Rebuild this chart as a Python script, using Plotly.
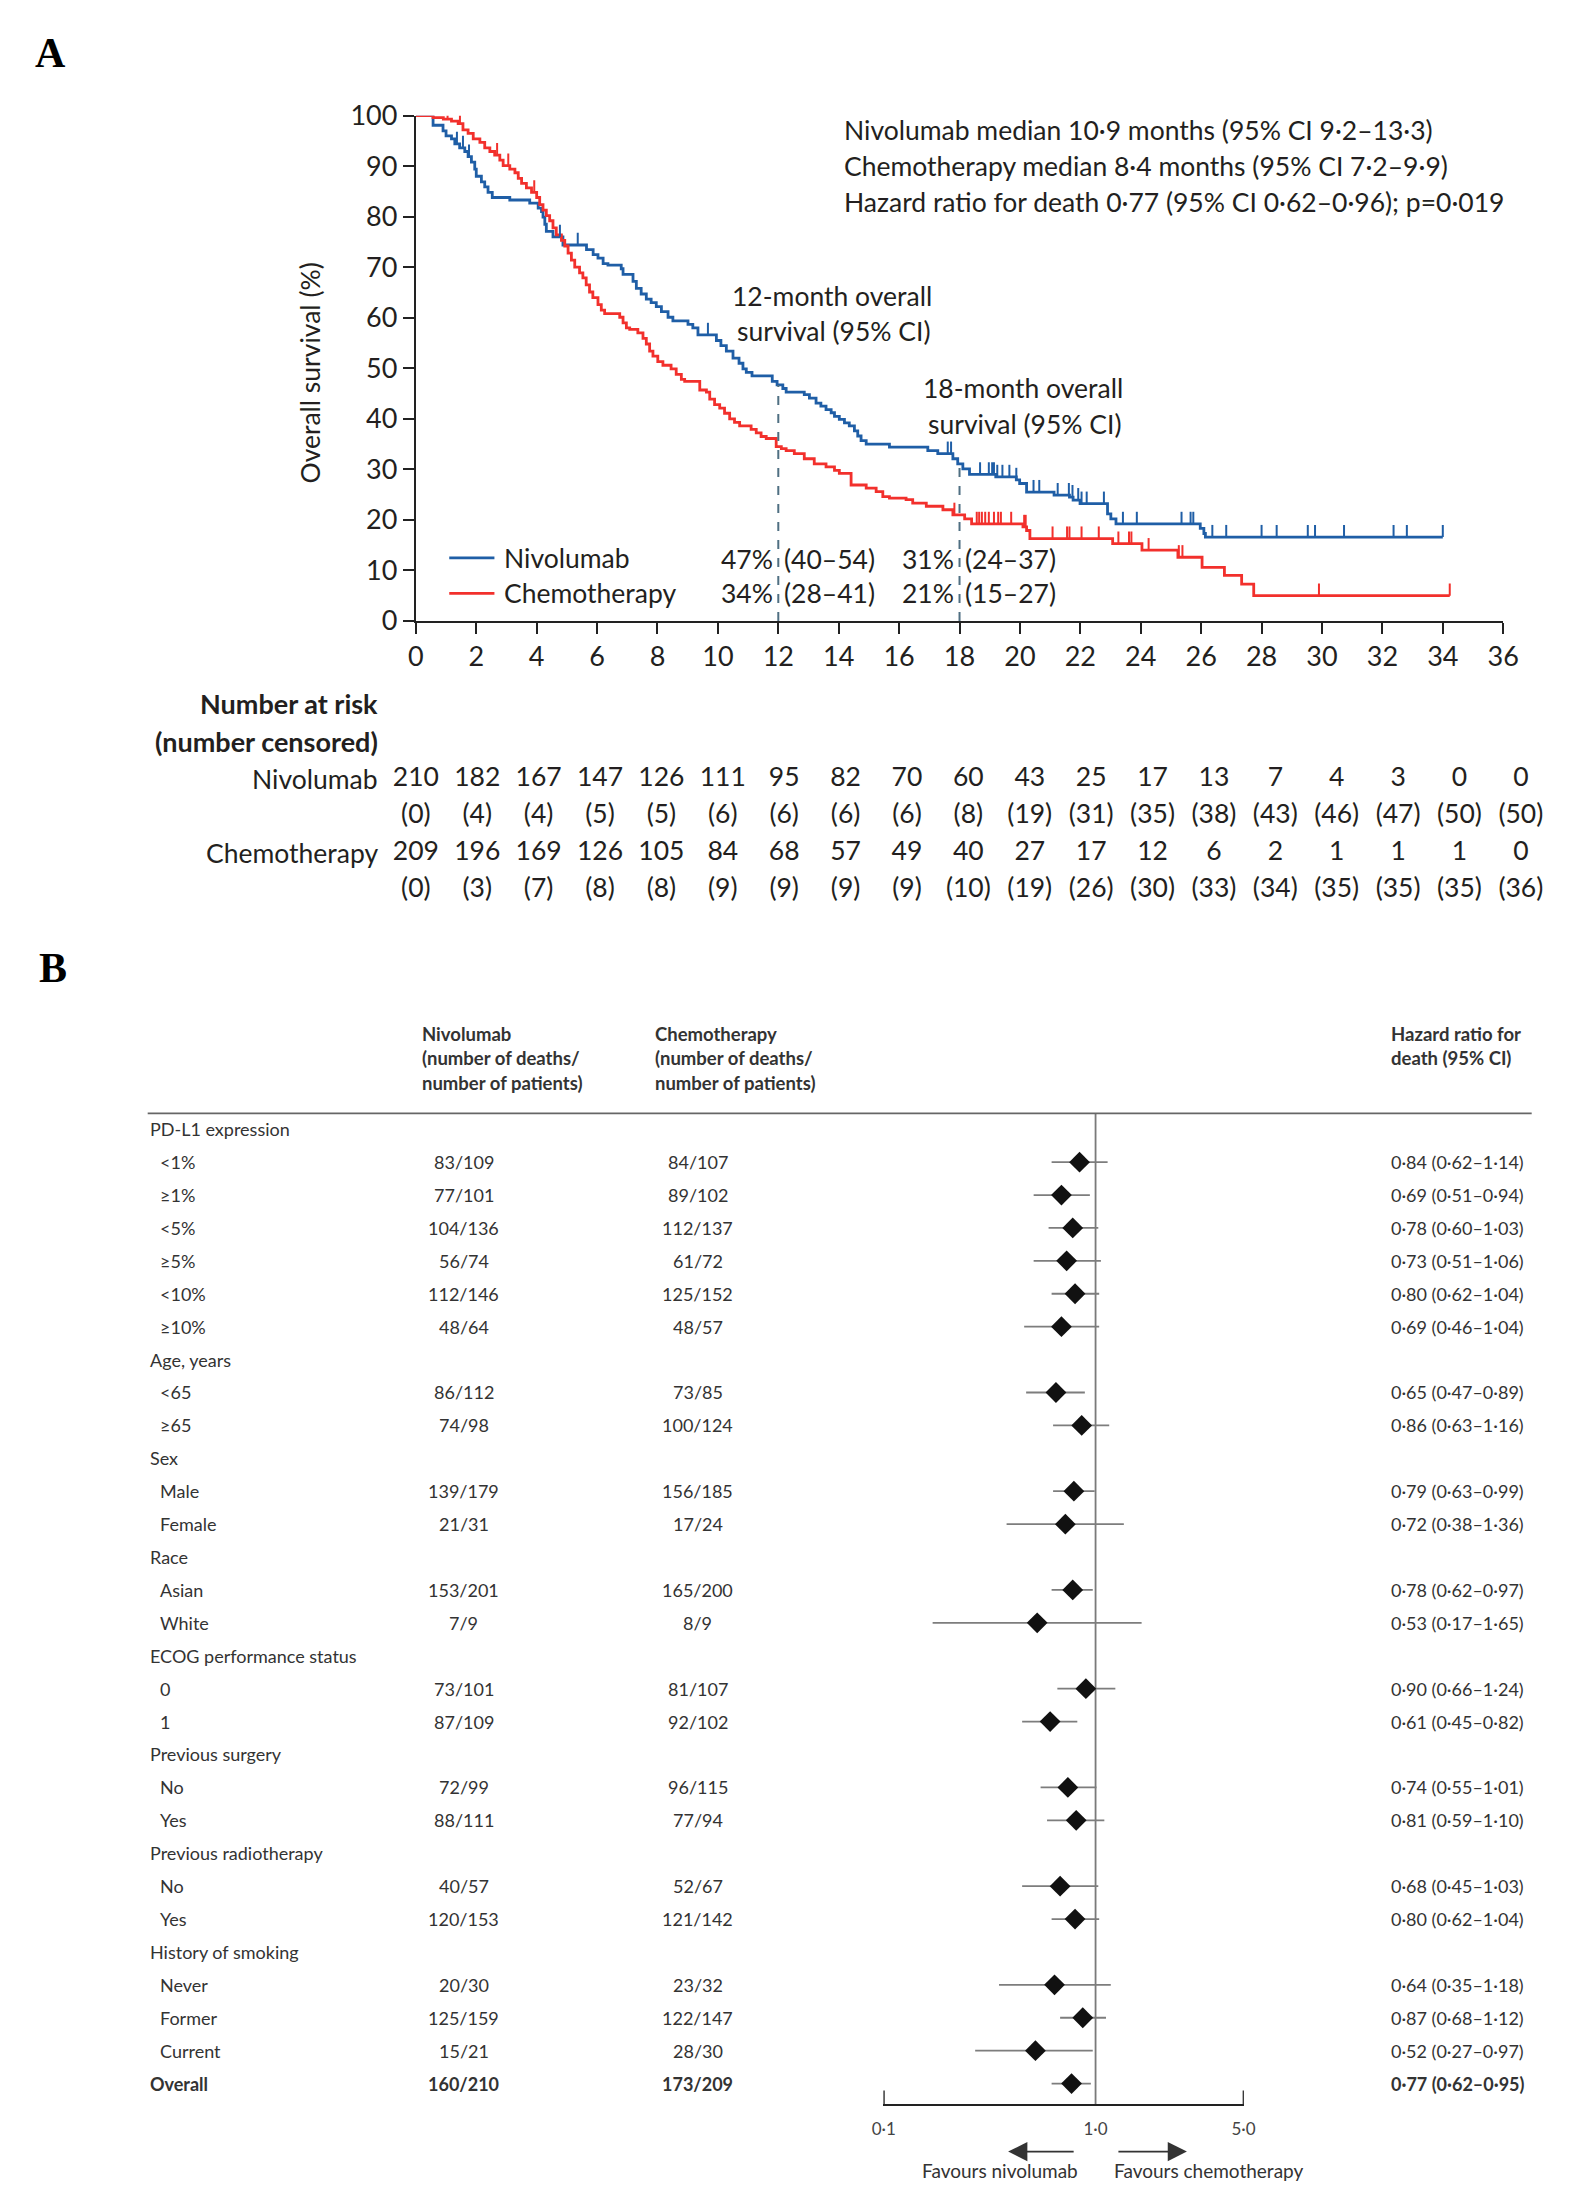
import plotly.graph_objects as go

W, H = 1578, 2198
FONT = "Lato"
TXT = "#231f20"
BLUE = "#1f5ea6"
RED = "#f2302c"

# ---------------- Panel A data ----------------
blue_t = [0.57,0.9,1.0,1.18,1.29,1.45,1.62,1.73,1.84,1.95,2.0,2.17,2.28,2.39,2.53,3.11,3.77,4.05,4.16,4.21,4.27,4.32,4.54,4.87,5.65,5.87,6.03,6.2,6.36,6.8,6.86,7.19,7.3,7.46,7.63,7.79,7.96,8.13,8.35,8.51,9.01,9.17,9.34,9.95,10.1,10.28,10.5,10.7,10.83,10.94,11.13,11.8,11.96,12.15,12.26,12.86,13.03,13.25,13.41,13.58,13.75,13.86,14.02,14.19,14.35,14.52,14.63,14.74,14.91,15.68,16.95,17.28,17.78,17.94,18.11,18.33,19.2,19.88,19.99,20.22,21.13,21.64,21.76,21.99,22.9,23.01,23.18,25.97,26.09,26.14]
blue_s = [98.1,97.0,96.0,95.4,94.4,93.6,92.9,91.9,90.8,89.4,88.0,86.9,85.9,84.8,83.8,83.3,82.7,81.7,81.0,79.9,78.5,77.1,76.0,74.4,73.5,72.5,71.8,70.7,70.4,69.7,68.6,67.2,65.8,64.7,63.7,63.0,62.2,61.2,60.1,59.4,58.7,58.0,56.6,55.5,54.5,53.4,52.0,51.0,49.9,49.2,48.5,47.4,46.7,46.0,45.3,44.8,44.1,43.1,42.5,41.8,41.2,40.5,39.9,39.2,38.6,37.6,36.6,35.7,35.0,34.4,33.7,33.1,32.1,31.1,30.1,29.0,28.5,27.9,27.2,25.5,24.9,24.5,23.9,23.2,21.2,20.2,19.2,18.3,17.3,16.6]
blue_end = 34.0
blue_cens = [1.36,1.56,1.76,4.77,5.36,9.67,17.61,17.72,18.68,18.97,19.08,19.14,19.25,19.42,19.65,19.88,20.45,20.64,21.25,21.62,21.74,21.93,22.04,22.21,22.78,23.41,23.87,25.35,25.65,25.74,26.37,26.83,28.0,28.5,29.53,29.77,30.73,32.37,32.81,34.0]

red_t = [0.57,0.91,1.18,1.4,1.56,1.73,1.9,2.12,2.28,2.45,2.61,2.78,2.89,3.11,3.28,3.39,3.5,3.66,3.83,4.0,4.1,4.21,4.32,4.43,4.54,4.65,4.82,4.93,5.04,5.15,5.26,5.42,5.53,5.64,5.75,5.86,6.03,6.14,6.25,6.75,6.86,6.97,7.08,7.35,7.52,7.63,7.74,7.85,8.01,8.18,8.45,8.62,8.79,8.9,9.4,9.62,9.73,9.89,10.06,10.22,10.39,10.55,10.72,11.1,11.27,11.43,11.6,11.93,12.1,12.26,12.53,12.86,13.19,13.58,13.86,14.02,14.41,14.91,15.24,15.46,15.68,16.23,16.45,16.9,17.45,17.78,18.17,18.4,20.1,20.22,20.33,23.07,24.04,25.23,26.03,26.77,27.34,27.74]
red_s = [99.6,99.3,98.9,98.4,97.2,96.5,95.4,94.7,93.6,92.9,92.2,91.2,90.1,89.4,88.7,87.6,86.6,85.7,84.8,83.8,82.4,81.3,80.2,79.2,77.8,76.4,75.3,74.2,72.8,71.4,70.0,68.9,67.9,66.5,65.1,64.0,62.6,61.5,60.8,60.1,59.0,58.0,57.7,57.0,55.9,54.8,53.4,52.4,51.3,50.6,49.9,48.8,47.8,47.4,45.7,45.3,43.9,42.8,42.1,41.1,40.0,39.3,38.6,37.9,37.2,36.5,36.1,34.5,34.1,33.7,33.1,32.1,31.1,30.5,29.8,29.2,26.9,26.3,25.6,24.6,24.3,24.0,23.3,22.7,22.0,21.0,20.2,19.2,18.6,17.9,16.3,15.3,14.0,12.6,10.6,9.0,7.3,5.0]
red_end = 34.23
red_cens = [1.05,1.46,2.69,3.06,3.92,17.83,18.57,18.65,18.74,18.85,18.97,19.14,19.28,19.37,19.71,20.14,20.19,21.08,21.56,21.64,22.04,22.61,23.26,23.61,23.69,24.26,25.26,25.38,29.9,34.23]

risk_times = [0,2,4,6,8,10,12,14,16,18,20,22,24,26,28,30,32,34,36]
nivo_risk = [210,182,167,147,126,111,95,82,70,60,43,25,17,13,7,4,3,0,0]
nivo_cens = [0,4,4,5,5,6,6,6,6,8,19,31,35,38,43,46,47,50,50]
chemo_risk = [209,196,169,126,105,84,68,57,49,40,27,17,12,6,2,1,1,1,0]
chemo_cens = [0,3,7,8,8,9,9,9,9,10,19,26,30,33,34,35,35,35,36]

# ---------------- Panel B data ----------------
sub_labels = ["PD-L1 expression","<1%","≥1%","<5%","≥5%","<10%","≥10%",
              "Age, years","<65","≥65","Sex","Male","Female","Race","Asian","White",
              "ECOG performance status","0","1","Previous surgery","No","Yes",
              "Previous radiotherapy","No","Yes","History of smoking","Never","Former","Current","Overall"]
is_header = [True,False,False,False,False,False,False,True,False,False,True,False,False,True,False,False,
             True,False,False,True,False,False,True,False,False,True,False,False,False,True]
nivo_counts = ["","83/109","77/101","104/136","56/74","112/146","48/64","","86/112","74/98","","139/179","21/31",
               "","153/201","7/9","","73/101","87/109","","72/99","88/111","","40/57","120/153","","20/30","125/159","15/21","160/210"]
chemo_counts = ["","84/107","89/102","112/137","61/72","125/152","48/57","","73/85","100/124","","156/185","17/24",
                "","165/200","8/9","","81/107","92/102","","96/115","77/94","","52/67","121/142","","23/32","122/147","28/30","173/209"]
hr = [None,0.84,0.69,0.78,0.73,0.80,0.69,None,0.65,0.86,None,0.79,0.72,None,0.78,0.53,None,0.90,0.61,None,0.74,0.81,None,0.68,0.80,None,0.64,0.87,0.52,0.77]
hr_lo = [None,0.62,0.51,0.60,0.51,0.62,0.46,None,0.47,0.63,None,0.63,0.38,None,0.62,0.17,None,0.66,0.45,None,0.55,0.59,None,0.45,0.62,None,0.35,0.68,0.27,0.62]
hr_hi = [None,1.14,0.94,1.03,1.06,1.04,1.04,None,0.89,1.16,None,0.99,1.36,None,0.97,1.65,None,1.24,0.82,None,1.01,1.10,None,1.03,1.04,None,1.18,1.12,0.97,0.95]
forest_ticks = [0.1, 1.0, 5.0]
forest_ticktext = ["0·1", "1·0", "5·0"]


def X(px):
    return px / W


def Y(py):
    return 1 - py / H


def step_value(times, surv, t):
    v = 100.0
    for tt, s in zip(times, surv):
        if tt <= t:
            v = s
        else:
            break
    return v


def fmt(v):
    return f"{v:.2f}".replace(".", "·")


fig = go.Figure()

# KM curves
for times, surv, end, col in [(blue_t, blue_s, blue_end, BLUE), (red_t, red_s, red_end, RED)]:
    xs = [0] + times + [end]
    ys = [100] + surv + [surv[-1]]
    fig.add_trace(go.Scatter(x=xs, y=ys, mode="lines", line=dict(color=col, width=2.8, shape="hv"),
                             cliponaxis=False, hoverinfo="skip", xaxis="x", yaxis="y"))

# censor marks
for times, surv, cens, col in [(blue_t, blue_s, blue_cens, BLUE), (red_t, red_s, red_cens, RED)]:
    cx, cy = [], []
    for c in cens:
        v = step_value(times, surv, c)
        cx += [c, c, None]
        cy += [v, v + 2.4, None]
    fig.add_trace(go.Scatter(x=cx, y=cy, mode="lines", line=dict(color=col, width=2),
                             cliponaxis=False, hoverinfo="skip", xaxis="x", yaxis="y"))

# landmark dashed lines
for lm in [12, 18]:
    fig.add_trace(go.Scatter(x=[lm, lm], y=[0, step_value(blue_t, blue_s, lm)], mode="lines",
                             line=dict(color="#4f6f82", width=2, dash="dash"),
                             hoverinfo="skip", xaxis="x", yaxis="y"))

# risk table as text trace
rt_x, rt_y, rt_txt = [], [], []
for i, t in enumerate(risk_times):
    rt_x += [t, t, t, t]
    rt_y += [0, 1, 2, 3]
    rt_txt += [str(nivo_risk[i]), f"({nivo_cens[i]})", str(chemo_risk[i]), f"({chemo_cens[i]})"]
fig.add_trace(go.Scatter(x=rt_x, y=rt_y, mode="text", text=rt_txt,
                         textfont=dict(family=FONT, size=26.5, color=TXT),
                         cliponaxis=False, hoverinfo="skip", xaxis="x3", yaxis="y3"))

# forest plot
F_TOP, F_BOT = -0.48, 29.63
ci_x, ci_y, pt_x, pt_y = [], [], [], []
for i, h in enumerate(hr):
    if h is None:
        continue
    ci_x += [hr_lo[i], hr_hi[i], None]
    ci_y += [i, i, None]
    pt_x.append(h)
    pt_y.append(i)
fig.add_trace(go.Scatter(x=[1, 1], y=[F_TOP, F_BOT], mode="lines", line=dict(color="#7a7a7a", width=1.8),
                         hoverinfo="skip", xaxis="x2", yaxis="y2", cliponaxis=False))
fig.add_trace(go.Scatter(x=ci_x, y=ci_y, mode="lines", line=dict(color="#7d7d7d", width=1.8),
                         hoverinfo="skip", xaxis="x2", yaxis="y2", cliponaxis=False))
fig.add_trace(go.Scatter(x=pt_x, y=pt_y, mode="markers",
                         marker=dict(symbol="diamond", size=16, color="#111111"),
                         hoverinfo="skip", xaxis="x2", yaxis="y2", cliponaxis=False))
# end ticks of the forest axis (pointing up)
tk_x, tk_y = [], []
for tv in (forest_ticks[0], forest_ticks[-1]):
    tk_x += [tv, tv, None]
    tk_y += [F_BOT, F_BOT - 0.42, None]
fig.add_trace(go.Scatter(x=tk_x, y=tk_y, mode="lines", line=dict(color="#222", width=1.8),
                         hoverinfo="skip", xaxis="x2", yaxis="y2", cliponaxis=False))

ann = []


def txt(x, y, s, size=26.5, xa="left", ya="middle", bold=False, xref="paper", yref="paper", color=TXT, family=FONT, angle=0):
    ann.append(dict(x=x, y=y, xref=xref, yref=yref, text=(f"<b>{s}</b>" if bold else s), showarrow=False,
                    xanchor=xa, yanchor=ya, textangle=angle,
                    font=dict(family=family, size=size, color=color)))


# panel letters
txt(X(13), Y(27), "A", size=42, bold=True, family="Liberation Serif", color="#000")
txt(X(17), Y(956), "B", size=42, bold=True, family="Liberation Serif", color="#000")

# KM annotations
txt(X(295), Y(352), "Overall survival (%)", size=26.5, xa="center", angle=-90)
txt(X(837), Y(106), "Nivolumab median 10·9 months (95% CI 9·2–13·3)")
txt(X(837), Y(142), "Chemotherapy median 8·4 months (95% CI 7·2–9·9)")
txt(X(837), Y(179), "Hazard ratio for death 0·77 (95% CI 0·62–0·96); p=0·019")
txt(X(723), Y(274), "12-month overall")
txt(X(728), Y(310), "survival (95% CI)")
txt(X(917), Y(368), "18-month overall")
txt(X(922), Y(404), "survival (95% CI)")
txt(X(491), Y(540), "Nivolumab")
txt(X(491), Y(576), "Chemotherapy")
for lm, a, b in [(12, ("47%", "(40–54)"), ("34%", "(28–41)")), (18, ("31%", "(24–37)"), ("21%", "(15–27)"))]:
    txt(lm - 0.12, Y(541), a[0], xa="right", xref="x")
    txt(lm + 0.12, Y(541), a[1], xa="left", xref="x")
    txt(lm - 0.12, Y(576), b[0], xa="right", xref="x")
    txt(lm + 0.12, Y(576), b[1], xa="left", xref="x")

# risk table labels
txt(X(367), Y(688), "Number at risk", size=27, xa="right", bold=True)
txt(X(367), Y(726), "(number censored)", size=27, xa="right", bold=True)
txt(X(367), 0, "Nivolumab", size=26.5, xa="right", yref="y3")
txt(X(367), 2, "Chemotherapy", size=26.5, xa="right", yref="y3")

# forest headers
BF = 18
HF = 18.5
for j, line in enumerate(["Nivolumab", "(number of deaths/", "number of patients)"]):
    txt(X(407), Y(1023 + 25 * j), line, size=HF, bold=True, color="#333")
for j, line in enumerate(["Chemotherapy", "(number of deaths/", "number of patients)"]):
    txt(X(644), Y(1023 + 25 * j), line, size=HF, bold=True, color="#333")
for j, line in enumerate(["Hazard ratio for", "death (95% CI)"]):
    txt(X(1394), Y(1023 + 25 * j), line, size=HF, bold=True, color="#333")

for i, lab in enumerate(sub_labels):
    bold = (lab == "Overall")
    xpos = X(130) if is_header[i] else X(141)
    txt(xpos, i, lab, size=BF, yref="y2", bold=bold, color="#333")
    if nivo_counts[i]:
        txt(X(452), i, nivo_counts[i], size=BF, xa="center", yref="y2", bold=bold, color="#333")
        txt(X(690), i, chemo_counts[i], size=BF, xa="center", yref="y2", bold=bold, color="#333")
    if hr[i] is not None:
        txt(X(1394), i, f"{fmt(hr[i])} ({fmt(hr_lo[i])}–{fmt(hr_hi[i])})", size=BF, yref="y2", bold=bold, color="#333")

txt(X(998), Y(2177), "Favours nivolumab", size=19, xa="center", color="#333")
txt(X(1210), Y(2177), "Favours chemotherapy", size=19, xa="center", color="#333")

# arrows
ann.append(dict(x=X(1006), y=Y(2158), xref="paper", yref="paper", ax=67, ay=0, text="", showarrow=True,
                arrowhead=2, arrowsize=2.4, arrowwidth=1.6, arrowcolor="#333"))
ann.append(dict(x=X(1188), y=Y(2158), xref="paper", yref="paper", ax=-70, ay=0, text="", showarrow=True,
                arrowhead=2, arrowsize=2.4, arrowwidth=1.6, arrowcolor="#333"))

shapes = [
    # legend swatches
    dict(type="line", xref="paper", yref="paper", x0=X(437), x1=X(483), y0=Y(540), y1=Y(540), line=dict(color=BLUE, width=2.8)),
    dict(type="line", xref="paper", yref="paper", x0=X(437), x1=X(483), y0=Y(576), y1=Y(576), line=dict(color=RED, width=2.8)),
    # forest header rule
    dict(type="line", xref="paper", yref="paper", x0=X(130), x1=X(1539), y0=Y(1104), y1=Y(1104), line=dict(color="#666", width=1.8)),
]

axis_common = dict(showgrid=False, zeroline=False, showline=True, linecolor="#222", linewidth=2,
                   ticks="outside", ticklen=11, tickwidth=2, tickcolor="#222",
                   tickfont=dict(family=FONT, size=27, color=TXT))

fig.update_layout(
    width=W, height=H, margin=dict(l=0, r=0, t=0, b=0),
    paper_bgcolor="white", plot_bgcolor="white", showlegend=False,
    xaxis=dict(domain=[X(403), X(1510)], range=[0, 36], tick0=0, dtick=2, anchor="y", **axis_common),
    yaxis=dict(domain=[Y(604), Y(91)], range=[0, 100], tick0=0, dtick=10, anchor="x", **axis_common),
    xaxis3=dict(domain=[X(403), X(1528)], range=[0, 36], visible=False, anchor="y3"),
    yaxis3=dict(domain=[Y(896), Y(746)], range=[3.5, -0.5], visible=False, anchor="x3"),
    xaxis2=dict(type="log", domain=[X(879), X(1246)], range=[-1.002, 0.7005], anchor="y2",
                tickvals=forest_ticks, ticktext=forest_ticktext, ticks="", 
                showline=True, linecolor="#222", linewidth=1.6, showgrid=False, zeroline=False,
                ticklabelstandoff=8,
                tickfont=dict(family=FONT, size=17, color="#444")),
    yaxis2=dict(domain=[Y(2110), Y(1104)], range=[F_BOT, F_TOP], visible=False, anchor="x2"),
    annotations=ann, shapes=shapes,
)

fig.write_html("out.html")
